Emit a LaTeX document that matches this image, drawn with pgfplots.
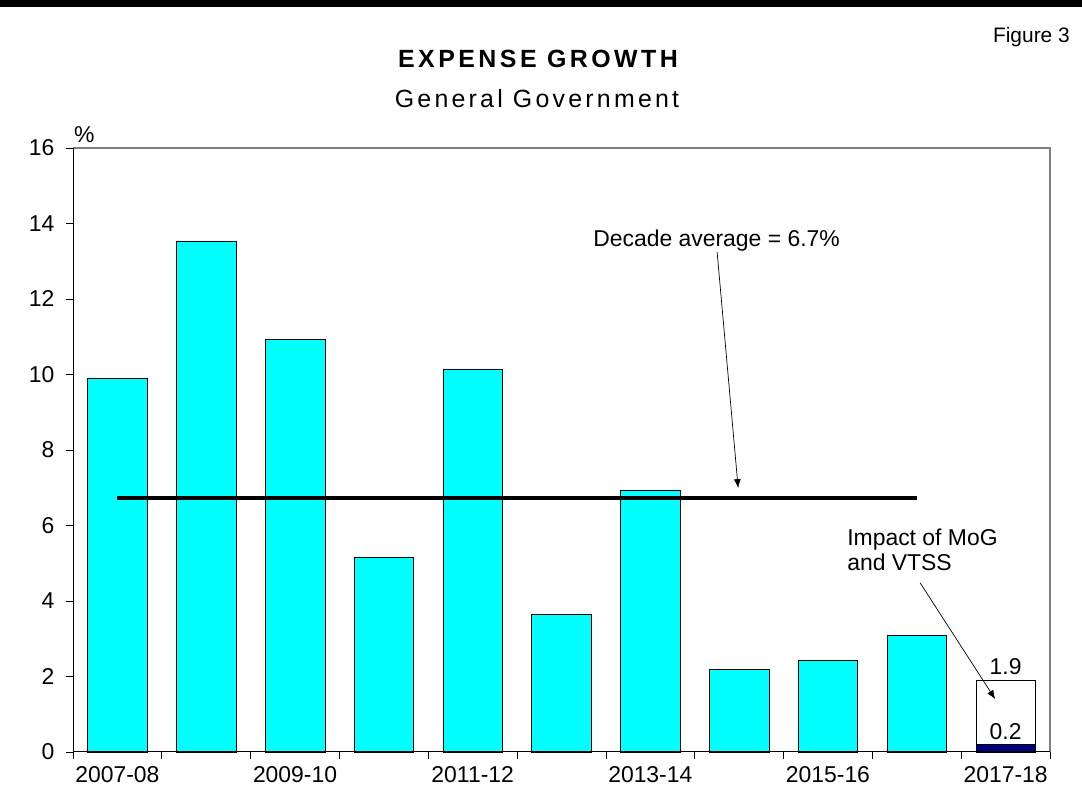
\documentclass[border=0pt]{standalone}
\usepackage{fontspec}
\setmainfont{Liberation Sans}
\usepackage{pgfplots}
\pgfplotsset{compat=1.18}
\usetikzlibrary{arrows.meta}
\definecolor{barcyan}{RGB}{0,255,255}
\definecolor{barnavy}{RGB}{0,0,128}
\definecolor{framegray}{RGB}{128,128,128}
\newcommand{\fs}{\fontsize{23}{27}\selectfont}

\begin{document}
\begin{tikzpicture}
\useasboundingbox (0,0) rectangle (1082bp,809bp);
\fill[black] (0,802bp) rectangle (1082bp,809bp);
\node[anchor=base east, font=\fontsize{21}{24}\selectfont, inner sep=0] at (1070bp,766bp) {Figure 3};
\node[anchor=base, inner sep=0, font=\fontsize{25}{29}\selectfont\bfseries\addfontfeature{LetterSpace=14}] at (538bp,741bp) {EXPENSE GROWTH};
\node[anchor=base, inner sep=0, font=\fontsize{25}{29}\selectfont\addfontfeature{LetterSpace=13}] at (537bp,701bp) {General Government};

\begin{axis}[
  at={(73bp,57bp)}, anchor=south west,
  scale only axis, width=977bp, height=604bp,
  xmin=-0.5, xmax=10.5, ymin=0, ymax=16,
  ytick={0,2,...,16},
  xtick={-0.5,0.5,...,10.5},
  xticklabels={},
  extra x ticks={0,2,4,6,8,10},
  extra x tick labels={2007-08,2009-10,2011-12,2013-14,2015-16,2017-18},
  extra x tick style={major tick length=0pt, xticklabel style={yshift=-11bp}},
  tick align=outside,
  major tick length=7bp,
  tick pos=left,
  tick style={black, line width=0.8bp},
  axis line style={draw=none},
  tick label style={font=\fs},
  yticklabel style={xshift=-8bp},
  /pgf/number format/assume math mode=true,
  clip=false,
]
\addplot[ybar, bar width=0.67, bar shift=0pt, fill=barcyan, draw=black, line width=0.6bp]
  coordinates {(0,9.91)(1,13.54)(2,10.94)(3,5.17)(4,10.15)(5,3.65)(6,6.93)(7,2.18)(8,2.42)(9,3.08)};
\addplot[ybar, bar width=0.67, bar shift=0pt, fill=white, draw=black, line width=0.6bp]
  coordinates {(10,1.9)};
\addplot[ybar, bar width=0.67, bar shift=0pt, fill=barnavy, draw=black, line width=0.6bp]
  coordinates {(10,0.2)};
\addplot[black, line width=4bp] coordinates {(0,6.73)(9,6.73)};

\draw[framegray, line width=1.2bp] (rel axis cs:0,1) -- (rel axis cs:1,1) -- (rel axis cs:1,0);
\draw[black, line width=1bp] (rel axis cs:0,1) -- (rel axis cs:0,0) -- (rel axis cs:1,0);

\draw[line width=0.7bp, -{Latex[length=9bp,width=7bp]}] (axis cs:6.752,13.245) -- (axis cs:6.989,6.99);
\draw[line width=0.7bp, -{Latex[length=9bp,width=7bp]}] (axis cs:9.038,4.48) -- (axis cs:9.883,1.40);

\node[anchor=base, font=\fs, inner sep=0] at (axis cs:6.746,13.38) {Decade average = 6.7\%};
\node[anchor=base west, font=\fs, inner sep=0] at (axis cs:8.216,5.48) {Impact of MoG};
\node[anchor=base west, font=\fs, inner sep=0] at (axis cs:8.216,4.82) {and VTSS};
\node[anchor=base, font=\fs, inner sep=0] at (axis cs:10,2.04) {1.9};
\node[anchor=base, font=\fs, inner sep=0] at (axis cs:10,0.34) {0.2};
\end{axis}
\node[anchor=base west, font=\fs, inner sep=0] at (74bp,666bp) {\%};
\end{tikzpicture}
\end{document}
